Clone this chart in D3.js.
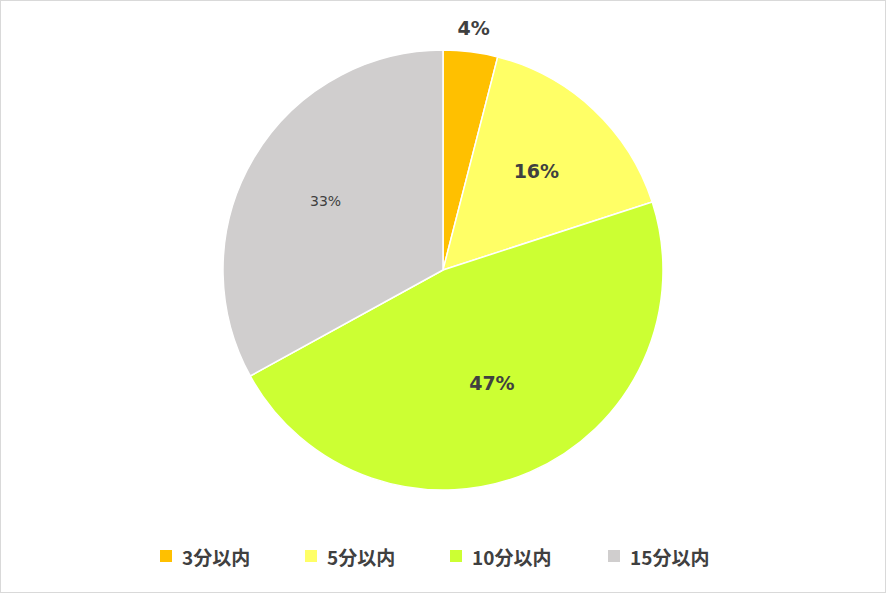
<!DOCTYPE html>
<html><head><meta charset="utf-8">
<script src="https://cdn.jsdelivr.net/npm/d3@7"></script>
<style>body{margin:0;background:#fff}</style></head>
<body><svg id="c" width="886" height="593"></svg>
<script>
const categories = ["3分以内","5分以内","10分以内","15分以内"];
const values = [4,16,47,33];
const colors = ["#FFC000","#FFFF66","#CCFF33","#D0CECE"];
const svg = d3.select("#c");
svg.append("rect").attr("x",0.5).attr("y",0.5).attr("width",885).attr("height",592).attr("fill","#fff").attr("stroke","#d9d9d9");
const cx=443, cy=270, R=220;
const g = svg.append("g").attr("transform",`translate(${cx},${cy})`);
const pie = d3.pie().sort(null).value(d=>d)(values);
const arc = d3.arc().innerRadius(0).outerRadius(R);
g.selectAll("path").data(pie).join("path").attr("d",arc)
 .attr("fill",(d,i)=>colors[i]).attr("stroke","#fff").attr("stroke-width",1.5);
const font = "Verdana, 'DejaVu Sans', sans-serif";
pie.forEach((d,i)=>{
  const a=(d.startAngle+d.endAngle)/2;
  const r = values[i]<8 ? R+24 : (i===2?R*0.56:R*0.62);
  const x=Math.sin(a)*r, y=-Math.cos(a)*r;
  g.append("text").attr("x",x).attr("y",y).attr("text-anchor","middle").attr("dominant-baseline","central")
   .attr("font-family",font).attr("font-size",i===3?14:19).attr("font-weight",i===3?"normal":"bold")
   .attr("fill","#404040").text(values[i]+"%");
});
const lx=[160,305,450,608];
const leg = svg.append("g");
categories.forEach((c,i)=>{
  leg.append("rect").attr("x",lx[i]).attr("y",550).attr("width",12).attr("height",12).attr("fill",colors[i]);
  leg.append("text").attr("x",lx[i]+22).attr("y",556).attr("dominant-baseline","central")
   .attr("font-family","'Noto Sans CJK JP', sans-serif").attr("font-size",19).attr("font-weight","bold")
   .attr("fill","#404040").text(c);
});
</script></body></html>
